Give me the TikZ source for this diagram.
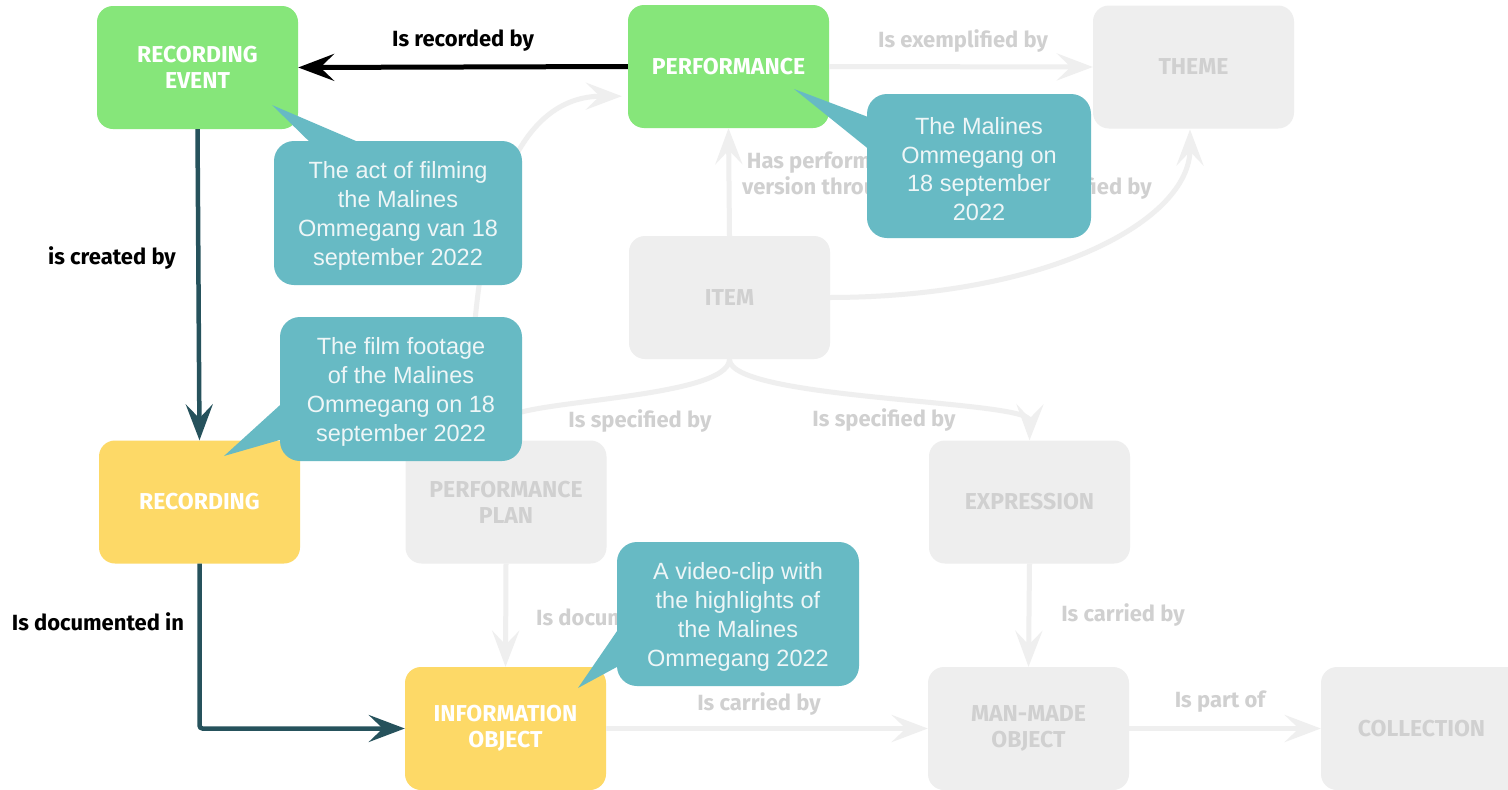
\documentclass[tikz,border=0pt]{standalone}
\usepackage{fontspec}
\setmainfont{Fira Sans}
\newfontfamily\cofont{Liberation Sans}
\usetikzlibrary{arrows.meta,calc}
\definecolor{cgreen}{HTML}{86E67A}
\definecolor{cyellow}{HTML}{FDD967}
\definecolor{cteal}{HTML}{67BAC4}
\definecolor{cdark}{HTML}{26525C}
\definecolor{cgreybox}{HTML}{EEEEEE}
\definecolor{cgreyline}{HTML}{EFEFEF}
\definecolor{cgreytext}{HTML}{D0D0D0}
\definecolor{ccotext}{HTML}{EEF6F7}
\begin{document}
\begin{tikzpicture}[x=1pt,y=-1pt,
  box/.style={rounded corners=16pt, minimum width=201pt, minimum height=123pt, align=center, font=\fontsize{23}{26}\selectfont\bfseries, inner sep=0pt},
  greybox/.style={box, fill=cgreybox, text=cgreytext},
  greenbox/.style={box, fill=cgreen, text=white},
  yellowbox/.style={box, fill=cyellow, text=white},
  callout/.style={rounded corners=20pt, fill=cteal, minimum height=144pt, inner sep=0pt},
  cotext/.style={text=ccotext, align=center, font=\cofont\fontsize{23.5}{28.8}\selectfont, inner sep=0pt},
  lbl/.style={font=\fontsize{22}{26}\selectfont\bfseries, inner sep=0pt, align=center},
  glbl/.style={lbl, text=cgreytext},
  tipstyle/.style={-{Stealth[length=36pt,width=27pt,inset=14pt]}},
  gedge/.style={tipstyle, draw=cgreyline, line width=5pt},
  dedge/.style={tipstyle, draw=cdark, line width=4.5pt, rounded corners=3pt},
  bedge/.style={tipstyle, draw=black, line width=5pt},
]
\useasboundingbox (0,0) rectangle (1508,790);
\fill[white] (0,0) rectangle (1508,790);

% grey nodes
\node[greybox] (theme) at (1193.5,67) {THEME};
\node[greybox] (item) at (729.5,297.5) {ITEM};
\node[greybox] (pplan) at (506,502) {PERFORMANCE\\PLAN};
\node[greybox] (expr) at (1029.5,502) {EXPRESSION};
\node[greybox] (mmo) at (1028.5,728.5) {MAN-MADE\\OBJECT};
\node[greybox] (coll) at (1421.5,728.5) {COLLECTION};
% coloured nodes
\node[greenbox] (rev) at (197.5,67.5) {RECORDING\\EVENT};
\node[greenbox] (perf) at (728.5,66.5) {PERFORMANCE};
\node[yellowbox] (rec) at (199.5,502) {RECORDING};
\node[yellowbox] (info) at (505.5,728.5) {INFORMATION\\OBJECT};

% grey edges
\draw[gedge] (perf.east) -- (theme.west);
\draw[gedge] (item.north) -- (perf.south);
\draw[gedge] (item.east) .. controls (1050,297) and (1190,220) .. (1190,129.5);
\draw[gedge] (item.south) .. controls (729,400) and (1030,400) .. (expr.north);
\draw[gedge] (item.south) .. controls (729,400) and (506,400) .. (pplan.north);
\coordinate (ptgt) at ($(perf.south west)+(-6,-32)$);
\draw[gedge] ($(pplan.north)+(-36,0)$) .. controls (470,200) and (520,96) .. (ptgt);
\draw[gedge] (pplan.south) -- (info.north);
\draw[gedge] (expr.south) -- (mmo.north);
\draw[gedge] (info.east) -- (mmo.west);
\draw[gedge] (mmo.east) -- (coll.west);

% grey labels
\node[glbl] at (963,41) {Is exemplified by};
\node[glbl, anchor=west] at (742,176) {Has performed\\version through};
\node[glbl, anchor=east] at (1152,188) {Is exemplified by};
\node[glbl] at (640,421) {Is specified by};
\node[glbl] at (884,420) {Is specified by};
\node[glbl, anchor=west] at (536,617) {Is documented in};
\node[glbl] at (1123,615) {Is carried by};
\node[glbl] at (759,704) {Is carried by};
\node[glbl] at (1220,702) {Is part of};

% dark edges
\draw[bedge] (perf.west) -- (rev.east);
\node[lbl] at (463,41) {Is recorded by};
\draw[dedge] (rev.south) -- (rec.north);
\node[lbl] at (112,258) {is created by};
\draw[dedge] (rec.south) |- (info.west);
\node[lbl] at (98,622) {Is documented in};

% callouts
\node[callout, minimum width=248pt] (c1) at (398,213) {};
\node[cotext] (c1t) at (398,216) {The act of filming\\the Malines\\Ommegang van 18\\september 2022};
\coordinate (t1) at (272,105);
\fill[cteal] (t1) -- (318,150) -- (377,150) -- cycle;

\node[callout, minimum width=224pt] (c2) at (979,166) {};
\node[cotext] (c2t) at (979,169) {The Malines\\Ommegang on\\18 september\\2022};
\coordinate (t2) at (794,89);
\fill[cteal] (t2) -- (876,120) -- (876,155) -- cycle;

\node[callout, minimum width=242pt] (c3) at (401,389) {};
\node[cotext] (c3t) at (401,392) {The film footage\\of the Malines\\Ommegang on 18\\september 2022};
\coordinate (t3) at (224,456);
\fill[cteal] (t3) -- (290,396) -- (290,437) -- cycle;

\node[callout, minimum width=242pt] (c4) at (738,614) {};
\node[cotext] (c4t) at (738,617) {A video-clip with\\the highlights of\\the Malines\\Ommegang 2022};
\coordinate (t4) at (578,688);
\fill[cteal] (t4) -- (626,618) -- (626,662) -- cycle;
\end{tikzpicture}
\end{document}
